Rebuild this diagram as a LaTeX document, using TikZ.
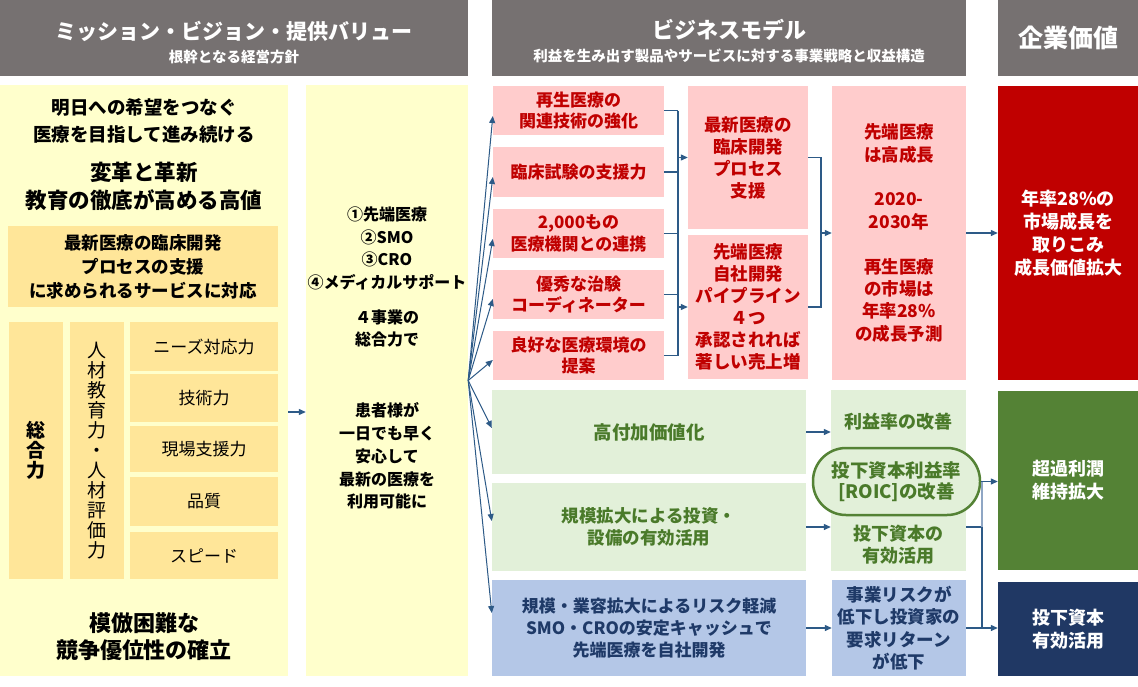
\documentclass[tikz,border=0pt]{standalone}
\usepackage{fontspec}
\setmainfont{Noto Sans CJK JP}
\usetikzlibrary{arrows.meta,calc}
\definecolor{headgray}{HTML}{767171}
\definecolor{yellowbg}{HTML}{FFFFCC}
\definecolor{orangebg}{HTML}{FFE699}
\definecolor{pinkbg}{HTML}{FFCCCC}
\definecolor{pinktxt}{HTML}{C00000}
\definecolor{greenbg}{HTML}{E2F0D9}
\definecolor{greentxt}{HTML}{4A7A2A}
\definecolor{bluebg}{HTML}{B4C7E7}
\definecolor{bluetxt}{HTML}{1F3A68}
\definecolor{redbox}{HTML}{C00000}
\definecolor{greenbox}{HTML}{548235}
\definecolor{navybox}{HTML}{203864}
\definecolor{arrowc}{HTML}{2D5A87}
\definecolor{arrowlight}{HTML}{8FA6C4}
\begin{document}
\begin{tikzpicture}[x=1pt,y=-1pt,
  bx/.style={rectangle, draw=none, inner sep=0pt, align=center},
  hdr/.style={bx, fill=headgray},
  hdrtitle/.style={bx, text=white, font=\bfseries\fontsize{21}{24}\selectfont},
  hdrsub/.style={bx, text=white, font=\bfseries\fontsize{14.5}{17}\selectfont},
  ybg/.style={bx, fill=yellowbg},
  ltxt/.style={bx, text=black},
  obox/.style={bx, fill=orangebg, text=black},
  pinkbox/.style={bx, fill=pinkbg, text=pinktxt, font=\bfseries\fontsize{17}{21.5}\selectfont},
  greenboxl/.style={bx, fill=greenbg, text=greentxt, font=\bfseries\fontsize{17.5}{22}\selectfont},
  blueboxl/.style={bx, fill=bluebg, text=bluetxt, font=\bfseries\fontsize{17}{22}\selectfont},
  valbox/.style={bx, text=white, font=\bfseries\fontsize{18}{23}\selectfont},
  midtxt/.style={bx, text=black, font=\bfseries\fontsize{16}{22.8}\selectfont},
  conn/.style={draw=arrowc, line width=1.2pt},
  arr/.style={draw=arrowc, line width=1.2pt, -{Triangle[length=7pt,width=6pt]}},
  fan/.style={draw=arrowc, line width=1pt, -{Triangle[length=7pt,width=6pt]}}
]
\fill[white] (0,0) rectangle (1138,686);
\useasboundingbox (0,0) rectangle (1138,686);

% headers
\node[hdr, minimum width=468pt, minimum height=76pt] (h1) at (234,38) {};
\node[hdrtitle] (h1t) at (234,31) {ミッション・ビジョン・提供バリュー};
\node[hdrsub] (h1s) at (234,57) {根幹となる経営方針};
\node[hdr, minimum width=474pt, minimum height=76pt] (h2) at (729,38) {};
\node[hdrtitle, font=\bfseries\fontsize{22}{25}\selectfont] (h2t) at (729,30) {ビジネスモデル};
\node[hdrsub] (h2s) at (729,56) {利益を生み出す製品やサービスに対する事業戦略と収益構造};
\node[hdr, minimum width=140pt, minimum height=76pt] (h3) at (1068,38) {};
\node[hdrtitle, font=\bfseries\fontsize{25}{28}\selectfont] (h3t) at (1068,38) {企業価値};

% left panel
\node[ybg, minimum width=288pt, minimum height=591pt] (L) at (144,380.5) {};
\node[ltxt, font=\bfseries\fontsize{18.5}{27}\selectfont] (L1) at (144,120.5) {明日への希望をつなぐ\\医療を目指して進み続ける};
\node[ltxt, font=\bfseries\fontsize{21.5}{28}\selectfont] (L2) at (144,186) {変革と革新\\教育の徹底が高める高値};
\node[obox, minimum width=270pt, minimum height=81pt, font=\bfseries\fontsize{17.5}{24}\selectfont] (o1) at (143,266.5) {最新医療の臨床開発\\プロセスの支援\\に求められるサービスに対応};
\node[obox, minimum width=54pt, minimum height=257pt, font=\bfseries\fontsize{19}{20}\selectfont] (s1) at (36,450.5) {総\\合\\力};
\node[obox, minimum width=54pt, minimum height=257pt, font=\fontsize{19}{20}\selectfont] (s2) at (97,450.5) {人\\材\\教\\育\\力\\・\\人\\材\\評\\価\\力};
\node[obox, minimum width=148pt, minimum height=49pt, font=\fontsize{17}{20}\selectfont] (r1) at (204,346.5) {ニーズ対応力};
\node[obox, minimum width=148pt, minimum height=48pt, font=\fontsize{17}{20}\selectfont] (r2) at (204,398) {技術力};
\node[obox, minimum width=148pt, minimum height=46pt, font=\fontsize{17}{20}\selectfont] (r3) at (204,449) {現場支援力};
\node[obox, minimum width=148pt, minimum height=49pt, font=\fontsize{17}{20}\selectfont] (r4) at (204,501.5) {品質};
\node[obox, minimum width=148pt, minimum height=47pt, font=\fontsize{17}{20}\selectfont] (r5) at (204,555.5) {スピード};
\node[ltxt, font=\bfseries\fontsize{22}{27}\selectfont] (L3) at (144,636.5) {模倣困難な\\競争優位性の確立};

% middle panel
\node[ybg, minimum width=162pt, minimum height=591pt] (M) at (387,380.5) {};
\node[midtxt] (M1) at (387,248.5) {①先端医療\\②SMO\\③CRO\\④メディカルサポート};
\node[midtxt] (M2) at (387,328.5) {４事業の\\総合力で};
\node[midtxt] (M3) at (387,456) {患者様が\\一日でも早く\\安心して\\最新の医療を\\利用可能に};

\draw[arr] ([yshift=-31.5pt]L.east) -- ([yshift=-31.5pt]M.west);

% pink left boxes
\node[pinkbox, minimum width=171pt, minimum height=49pt] (p1) at (578.5,110.5) {再生医療の\\関連技術の強化};
\node[pinkbox, minimum width=171pt, minimum height=50pt] (p2) at (578.5,172) {臨床試験の支援力};
\node[pinkbox, minimum width=171pt, minimum height=49pt] (p3) at (578.5,233.5) {2,000もの\\医療機関との連携};
\node[pinkbox, minimum width=171pt, minimum height=49pt] (p4) at (578.5,294.5) {優秀な治験\\コーディネーター};
\node[pinkbox, minimum width=171pt, minimum height=49pt] (p5) at (578.5,355.5) {良好な医療環境の\\提案};

% pink middle boxes
\node[pinkbox, minimum width=120pt, minimum height=143pt, font=\bfseries\fontsize{17.5}{22}\selectfont] (q1) at (748,157.5) {最新医療の\\臨床開発\\プロセス\\支援};
\node[pinkbox, minimum width=120pt, minimum height=144pt, font=\bfseries\fontsize{17.5}{22}\selectfont] (q2) at (748,307) {先端医療\\自社開発\\パイプライン\\４つ\\承認されれば\\著しい売上増};
\node[pinkbox, minimum width=134pt, minimum height=294pt, font=\bfseries\fontsize{17.5}{22.4}\selectfont] (C) at (899,233) {先端医療\\は高成長\\[22.4pt]2020-\\2030年\\[22.4pt]再生医療\\の市場は\\年率28\%\\の成長予測};

% green / blue left boxes
\node[greenboxl, minimum width=314pt, minimum height=84pt, font=\bfseries\fontsize{18.5}{22}\selectfont] (g1) at (649,432) {高付加価値化};
\node[greenboxl, minimum width=314pt, minimum height=88pt] (g2) at (649,527) {規模拡大による投資・\\設備の有効活用};
\node[blueboxl, minimum width=314pt, minimum height=96pt] (b1) at (649,628) {規模・業容拡大によるリスク軽減\\SMO・CROの安定キャッシュで\\先端医療を自社開発};

% right green column
\node[greenboxl, minimum width=135pt, minimum height=181pt] (gr) at (898.5,480.5) {};
\node[bx, text=greentxt, font=\bfseries\fontsize{18}{22}\selectfont] (gr1) at (898.5,422) {利益率の改善};
\node[bx, draw=greenbox, line width=2.5pt, fill=greenbg, rounded corners=33pt, minimum width=167pt, minimum height=67pt, text=greentxt, font=\bfseries\fontsize{18.5}{21.5}\selectfont] (E) at (896.5,481.5) {投下資本利益率\\\relax [ROIC]の改善};
\node[bx, text=greentxt, font=\bfseries\fontsize{18}{22}\selectfont] (gr2) at (898.5,545) {投下資本の\\有効活用};
\node[blueboxl, minimum width=134pt, minimum height=96pt, font=\bfseries\fontsize{17.5}{22.3}\selectfont] (b2) at (899,628) {事業リスクが\\低下し投資家の\\要求リターン\\が低下};

% value boxes
\node[valbox, fill=redbox, minimum width=140pt, minimum height=294pt] (R1) at (1068,233) {年率28\%の\\市場成長を\\取りこみ\\成長価値拡大};
\node[valbox, fill=greenbox, minimum width=140pt, minimum height=179pt] (G) at (1068,480.5) {超過利潤\\維持拡大};
\node[valbox, fill=navybox, minimum width=140pt, minimum height=94pt] (N) at (1068,629) {投下資本\\有効活用};

% fan arrows
\draw[fan] (M.east) -- ([yshift=-5.5pt]p1.west);
\draw[fan] (M.east) -- ([yshift=-5pt]p2.west);
\draw[fan] (M.east) -- ([yshift=-5.5pt]p3.west);
\draw[fan] (M.east) -- ([yshift=-4.5pt]p4.west);
\draw[fan] (M.east) -- ([yshift=-4.5pt]p5.west);
\draw[fan] (M.east) -- ([yshift=4pt]g1.west);
\draw[fan] (M.east) -- ([yshift=6pt]g2.west);
\draw[fan] (M.east) -- ([yshift=15pt]b1.west);

% bracket 1
\coordinate (bx1) at (678,0);
\coordinate (bx2) at (821,0);
\coordinate (bx3) at (982,0);
\foreach \p in {p1,p2,p3,p4,p5} {\draw[conn] (\p.east) -- (\p.east -| bx1);}
\draw[conn] (p1.east -| bx1) -- (p5.east -| bx1);
\draw[arr] (q1.west -| bx1) -- (q1.west);
\draw[arr] (q2.west -| bx1) -- (q2.west);

% bracket 2
\draw[conn] (q1.east) -- (q1.east -| bx2) -- (q2.east -| bx2) -- (q2.east);
\draw[arr] (C.west -| bx2) -- (C.west);
\draw[arr] (C.east) -- (C.east -| R1.west);

% lower connectors
\draw[arr] (g1.east) -- (g1.east -| gr.west);
\draw[arr] (g2.east) -- (g2.east -| gr.west);
\draw[arr] (b1.east) -- (b1.east -| b2.west);
\draw[arr] (E.east) -- (E.east -| G.west);
\draw[conn] (g2.east -| gr.east) -- (g2.east -| bx3);
\draw[draw=arrowlight, line width=1.2pt] (E.east -| bx3) -- (g2.east -| bx3);
\draw[conn] (g2.east -| bx3) -- (b2.east -| bx3);
\draw[arr] (b2.east) -- (b2.east -| N.west);
\end{tikzpicture}
\end{document}
